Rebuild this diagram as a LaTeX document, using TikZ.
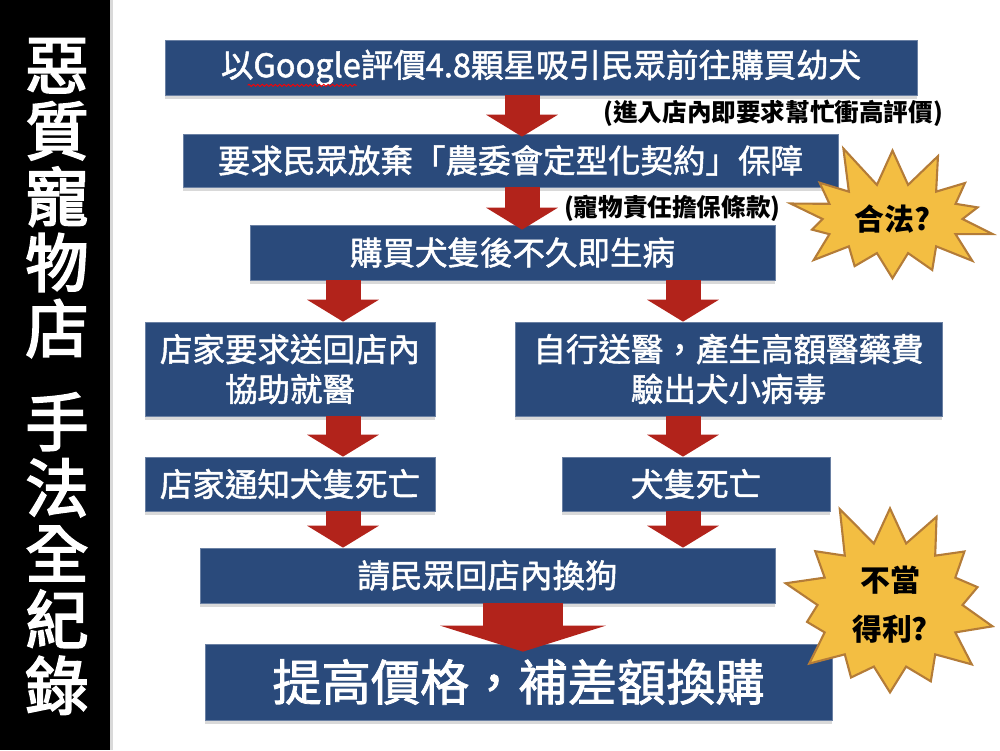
\documentclass[tikz,border=0pt]{standalone}
\usepackage{fontspec}
\setmainfont{Noto Sans CJK TC}
\newfontfamily\medfont{Noto Sans CJK TC}[FakeBold=1.6]
\newfontfamily\titlefont{Noto Sans CJK TC}[FakeBold=3]
\usetikzlibrary{positioning,arrows.meta,shapes.symbols,shadows,decorations.pathmorphing}
\definecolor{boxblue}{HTML}{2A4A7B}
\definecolor{arrowred}{HTML}{B2231B}
\definecolor{burstfill}{HTML}{F3BE42}
\definecolor{burstline}{HTML}{B47C38}
\tikzset{
  stepbox/.style={draw=boxblue!70!white, fill=boxblue, text=white, inner sep=2pt, align=center,
    font=\medfont\fontsize{18.5pt}{22.7pt}\selectfont,
    drop shadow={shadow xshift=0pt, shadow yshift=-2pt, opacity=0.3}},
  redarrow/.style={draw=arrowred, line width=0.7cm, -{Triangle[width=1.42cm, length=0.44cm]}},
  bigarrow/.style={draw=arrowred, line width=1.6cm, -{Triangle[width=3.3cm, length=0.52cm]}},
  remark/.style={font=\bfseries\fontsize{14pt}{16pt}\selectfont, inner sep=1pt},
  burst/.style={starburst, starburst points=14, starburst point height=0.9cm, random starburst=11,
    fill=burstfill, draw=burstline, line width=1.2pt, align=center,
    font=\bfseries\fontsize{17pt}{28pt}\selectfont},
  sidetitle/.style={text=white, align=center, font=\titlefont\fontsize{36pt}{37.5pt}\selectfont}
}

\begin{document}
\begin{tikzpicture}
  \useasboundingbox (0,0) rectangle (20,-15);
  % side bar
  \fill[black] (0,0) rectangle (2.2,-15);
  \fill[gray!30] (2.2,0) rectangle (2.26,-15);
  \node[sidetitle] (ttl) at (1.14,-7.53) {惡\\質\\寵\\物\\店\\[0.55cm]手\\法\\全\\紀\\錄};

  % arrow columns
  \coordinate (mid) at (10.44,0);
  \coordinate (lcol) at (6.86,0);
  \coordinate (rcol) at (13.66,0);
  \coordinate (bigmid) at (10.46,0);

  % boxes
  \node[stepbox, minimum width=15.04cm, minimum height=1.1cm] (b1) at (10.82,-1.35) {以Google評價4.8顆星吸引民眾前往購買幼犬};
  \node[stepbox, minimum width=13.1cm, minimum height=1.06cm] (b2) at (10.21,-3.21) {要求民眾放棄「農委會定型化契約」保障};
  \node[stepbox, minimum width=10.5cm, minimum height=1.1cm] (b3) at (10.25,-5.05) {購買犬隻後不久即生病};
  \node[stepbox, minimum width=5.8cm, minimum height=1.88cm] (b4l) at (5.8,-7.38) {店家要求送回店內\\協助就醫};
  \node[stepbox, minimum width=8.54cm, minimum height=1.88cm] (b4r) at (14.57,-7.38) {自行送醫，產生高額醫藥費\\驗出犬小病毒};
  \node[stepbox, minimum width=5.8cm, minimum height=1.08cm] (b5l) at (5.8,-9.68) {店家通知犬隻死亡};
  \node[stepbox, minimum width=5.36cm, minimum height=1.08cm] (b5r) at (13.92,-9.68) {犬隻死亡};
  \node[stepbox, minimum width=11.5cm, minimum height=1.1cm] (b6) at (9.75,-11.51) {請民眾回店內換狗};
  \node[stepbox, minimum width=12.54cm, minimum height=1.52cm, font=\medfont\fontsize{28pt}{32pt}\selectfont] (b7) at (10.37,-13.64) {提高價格，補差額換購};

  % spell check mark
  \draw[red, line width=0.5pt, decorate, decoration={snake, amplitude=0.6pt, segment length=2.5pt}]
    ([xshift=1.66cm, yshift=0.2cm]b1.south west) -- ([xshift=3.84cm, yshift=0.2cm]b1.south west);

  % arrows
  \draw[redarrow] (b1.south -| mid) -- ([yshift=-0.06cm]b2.north -| mid);
  \draw[redarrow] (b2.south -| mid) -- ([yshift=-0.1cm]b3.north -| mid);
  \draw[redarrow] (b3.south -| lcol) -- (b4l.north -| lcol);
  \draw[redarrow] (b3.south -| rcol) -- (b4r.north -| rcol);
  \draw[redarrow] (b4l.south -| lcol) -- (b5l.north -| lcol);
  \draw[redarrow] (b4r.south -| rcol) -- (b5r.north -| rcol);
  \draw[redarrow] (b5l.south -| lcol) -- (b6.north -| lcol);
  \draw[redarrow] (b5r.south -| rcol) -- (b6.north -| rcol);
  \draw[bigarrow] (b6.south -| bigmid) -- ([yshift=-0.16cm]b7.north -| bigmid);

  % remarks
  \node[remark, anchor=east] (r1) at (18.9,-2.26) {(進入店內即要求幫忙衝高評價)};
  \node[remark, anchor=west] (r2) at (11.24,-4.16) {(寵物責任擔保條款)};

  % bursts
  \node[burst, minimum width=4.6cm, minimum height=3.2cm] (legal) at (17.85,-4.38) {合法?};
  \node[burst, minimum width=4.7cm, minimum height=4.1cm] (gain) at (17.8,-12.1) {不當\\得利?};
\end{tikzpicture}
\end{document}
